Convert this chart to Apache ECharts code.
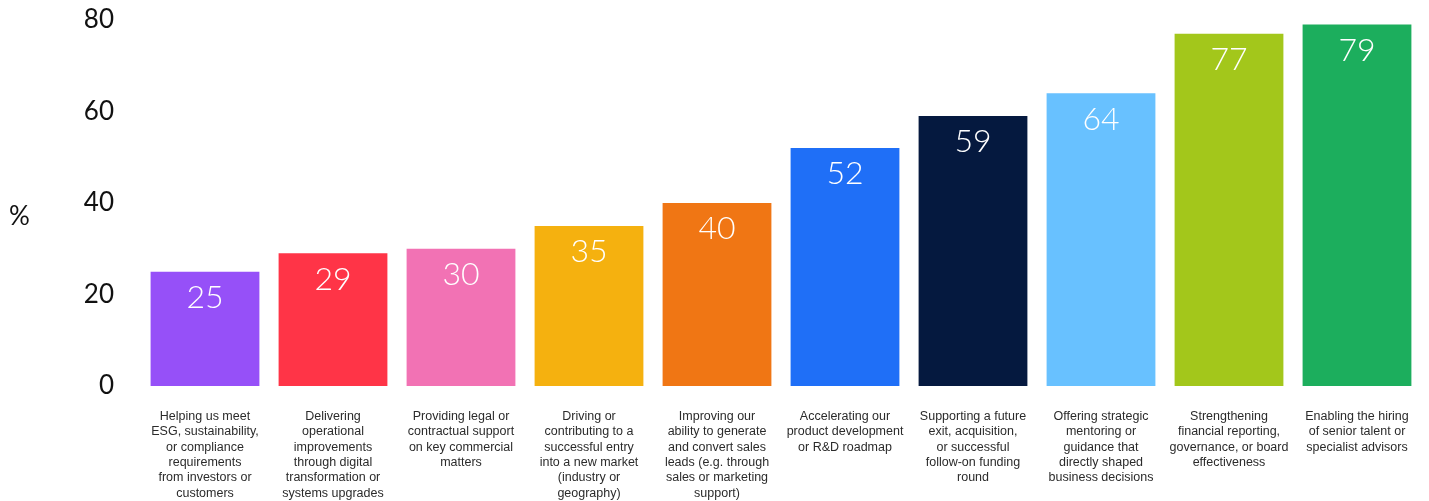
<!DOCTYPE html>
<html>
<head>
<meta charset="utf-8">
<script src="https://cdn.jsdelivr.net/npm/echarts@6/dist/echarts.min.js"></script>
<style>
  html, body { margin: 0; padding: 0; background: #ffffff; }
  #chart { width: 1429px; height: 501px; }
</style>
</head>
<body>
<div id="chart"></div>
<script>
// Categories of support, values in percent, and one colour per bar
const categories = [
  'Helping us meet\nESG, sustainability,\nor compliance\nrequirements\nfrom investors or\ncustomers',
  'Delivering\noperational\nimprovements\nthrough digital\ntransformation or\nsystems upgrades',
  'Providing legal or\ncontractual support\non key commercial\nmatters',
  'Driving or\ncontributing to a\nsuccessful entry\ninto a new market\n(industry or\ngeography)',
  'Improving our\nability to generate\nand convert sales\nleads (e.g. through\nsales or marketing\nsupport)',
  'Accelerating our\nproduct development\nor R&D roadmap',
  'Supporting a future\nexit, acquisition,\nor successful\nfollow-on funding\nround',
  'Offering strategic\nmentoring or\nguidance that\ndirectly shaped\nbusiness decisions',
  'Strengthening\nfinancial reporting,\ngovernance, or board\neffectiveness',
  'Enabling the hiring\nof senior talent or\nspecialist advisors'
];
const values = [25, 29, 30, 35, 40, 52, 59, 64, 77, 79];
const barColors = [
  '#9650F8', '#FF3447', '#F272B4', '#F5B10F', '#F07614',
  '#1F6FF7', '#05193F', '#68C1FF', '#A3C71B', '#1CAE5D'
];
const yTicks = [0, 20, 40, 60, 80];

const chart = echarts.init(document.getElementById('chart'), null, { renderer: 'canvas' });

chart.setOption({
  animation: false,
  grid: { left: 141, right: 8, top: 20, bottom: 115 },
  graphic: [{
    type: 'text',
    left: 9,
    top: 204,
    style: { text: '%', font: '26px Lato, "Noto Sans", sans-serif', fill: '#111111' }
  }],
  xAxis: {
    type: 'category',
    data: categories,
    axisLine: { show: false },
    axisTick: { show: false },
    axisLabel: {
      interval: 0,
      margin: 23,
      color: '#2b2b2b',
      fontFamily: '"Liberation Sans", Arial, sans-serif',
      fontSize: 12.5,
      lineHeight: 15.3,
      align: 'center',
      verticalAlign: 'top'
    }
  },
  yAxis: {
    type: 'value',
    min: yTicks[0],
    max: yTicks[yTicks.length - 1],
    interval: 20,
    splitLine: { show: false },
    axisLine: { show: false },
    axisTick: { show: false },
    axisLabel: {
      margin: 27,
      color: '#111111',
      fontFamily: 'Lato, "Noto Sans", sans-serif',
      fontSize: 26
    }
  },
  series: [{
    type: 'bar',
    data: values.map((v, i) => ({ value: v, itemStyle: { color: barColors[i] } })),
    barWidth: '85%',
    label: {
      show: true,
      position: 'insideTop',
      distance: 10,
      color: '#ffffff',
      fontFamily: 'Lato, "Noto Sans", sans-serif',
      fontWeight: 300,
      fontSize: 32
    }
  }]
});
</script>
</body>
</html>
